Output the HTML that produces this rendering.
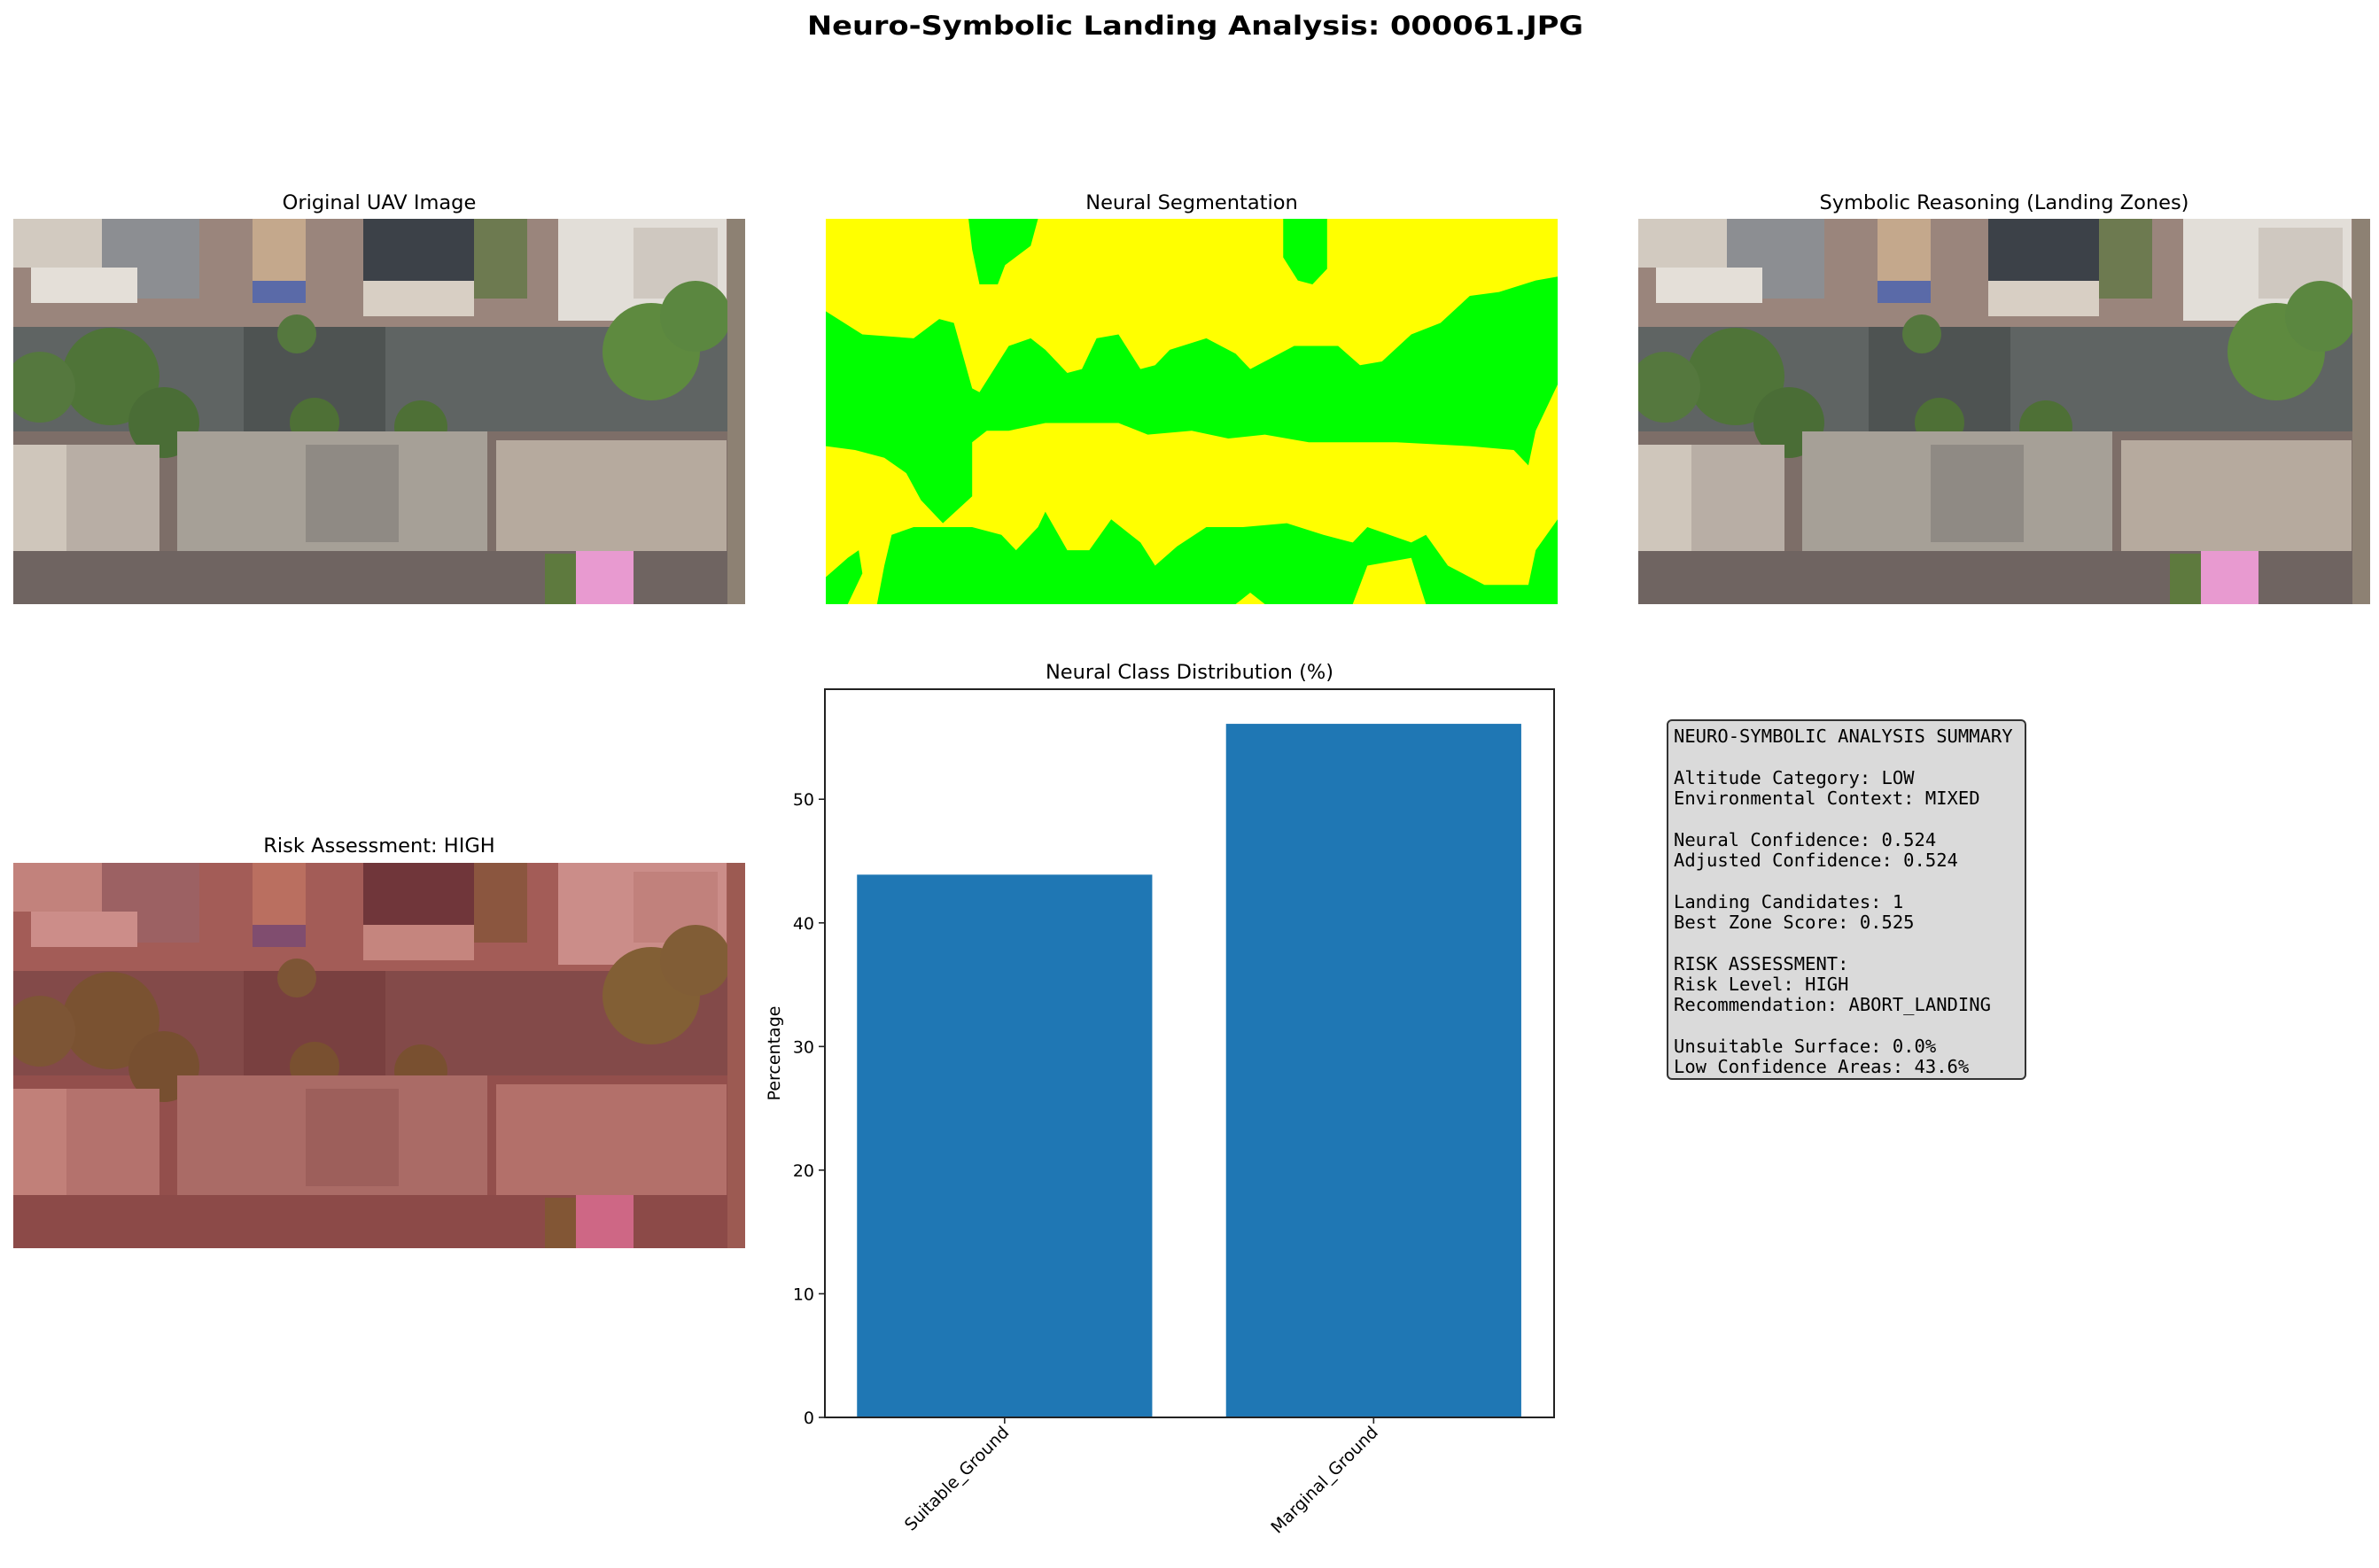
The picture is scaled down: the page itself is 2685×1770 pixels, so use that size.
<!DOCTYPE html>
<html><head><meta charset="utf-8"><style>
html,body{margin:0;padding:0;background:#fff;}
svg{display:block;}
.sans{font-family:"DejaVu Sans","Liberation Sans",sans-serif;}
.mono{font-family:"DejaVu Sans Mono","Liberation Mono",monospace;}
</style></head><body>
<svg id="fig" class="sans" width="2685" height="1770" viewBox="0 0 2685 1770" xmlns="http://www.w3.org/2000/svg">
<defs>
<clipPath id="pclip"><rect x="0" y="0" width="826" height="435"/></clipPath>
<g id="photo" clip-path="url(#pclip)">
  <rect x="0" y="0" width="826" height="435" fill="#7d6e68"/>
  <rect x="0" y="0" width="826" height="125" fill="#9a857c"/>
  <rect x="0" y="0" width="100" height="55" fill="#d2cac0"/>
  <rect x="100" y="0" width="110" height="90" fill="#8c8e92"/>
  <rect x="20" y="55" width="120" height="40" fill="#e4dfd8"/>
  <rect x="270" y="0" width="60" height="70" fill="#c4a88c"/>
  <rect x="270" y="70" width="60" height="25" fill="#5a6aa8"/>
  <rect x="395" y="0" width="125" height="70" fill="#3c4148"/>
  <rect x="395" y="70" width="125" height="40" fill="#d8cfc4"/>
  <rect x="520" y="0" width="60" height="90" fill="#6d7a50"/>
  <rect x="615" y="0" width="190" height="115" fill="#e2ded8"/>
  <rect x="700" y="10" width="95" height="80" fill="#cfc8c0"/>
  <rect x="0" y="122" width="826" height="118" fill="#5f6463"/>
  <rect x="260" y="122" width="160" height="118" fill="#4e5352"/>
  <circle cx="110" cy="178" r="55" fill="#4f7438"/>
  <circle cx="170" cy="230" r="40" fill="#4a6d36"/>
  <circle cx="30" cy="190" r="40" fill="#55783e"/>
  <circle cx="720" cy="150" r="55" fill="#5e8a3f"/>
  <circle cx="770" cy="110" r="40" fill="#5b8740"/>
  <circle cx="460" cy="235" r="30" fill="#4e7036"/>
  <circle cx="340" cy="230" r="28" fill="#4e7036"/>
  <circle cx="320" cy="130" r="22" fill="#55783e"/>
  <rect x="0" y="255" width="165" height="120" fill="#b8aea5"/>
  <rect x="0" y="255" width="60" height="120" fill="#cfc6bb"/>
  <rect x="185" y="240" width="350" height="135" fill="#a6a097"/>
  <rect x="330" y="255" width="105" height="110" fill="#8f8a84"/>
  <rect x="545" y="250" width="260" height="125" fill="#b6aa9e"/>
  <rect x="0" y="375" width="826" height="60" fill="#6f6461"/>
  <rect x="635" y="375" width="65" height="60" fill="#e89ad0"/>
  <rect x="600" y="378" width="35" height="57" fill="#5e7a3e"/>
  <rect x="806" y="0" width="20" height="435" fill="#8d8173"/>
</g>
</defs>

<text x="1349" y="39" text-anchor="middle" font-size="29" font-weight="bold" textLength="876" lengthAdjust="spacingAndGlyphs">Neuro-Symbolic Landing Analysis: 000061.JPG</text>

<text x="428" y="236" text-anchor="middle" font-size="22.5">Original UAV Image</text>
<use href="#photo" x="15" y="247"/>

<text x="1345" y="236" text-anchor="middle" font-size="22.5">Neural Segmentation</text>
<g transform="translate(932,247) scale(826,435)">
  <rect x="0" y="0" width="1" height="1" fill="#ffff00"/>
  <path fill="#00ff00" d="M0.195,0 L0.29,0 L0.28,0.07 L0.245,0.12 L0.235,0.17 L0.21,0.17 L0.2,0.08 Z"/>
  <path fill="#00ff00" d="M0.625,0 L0.685,0 L0.685,0.13 L0.665,0.17 L0.645,0.16 L0.625,0.1 Z"/>
  <path fill="#00ff00" d="M0,0.24 L0.05,0.3 L0.12,0.31 L0.155,0.26 L0.175,0.27 L0.2,0.44 L0.21,0.45 L0.25,0.33 L0.28,0.31 L0.3,0.34 L0.33,0.4 L0.35,0.39 L0.37,0.31 L0.4,0.3 L0.43,0.39 L0.45,0.38 L0.47,0.34 L0.52,0.31 L0.56,0.35 L0.58,0.39 L0.62,0.35 L0.64,0.33 L0.7,0.33 L0.73,0.38 L0.76,0.37 L0.8,0.3 L0.84,0.27 L0.88,0.2 L0.92,0.19 L0.97,0.16 L1,0.15 L1,0.43 L0.97,0.55 L0.96,0.64 L0.94,0.6 L0.88,0.59 L0.78,0.58 L0.66,0.58 L0.6,0.56 L0.55,0.57 L0.5,0.55 L0.44,0.56 L0.4,0.53 L0.3,0.53 L0.25,0.55 L0.22,0.55 L0.2,0.58 L0.2,0.72 L0.16,0.79 L0.13,0.73 L0.11,0.66 L0.08,0.62 L0.04,0.6 L0,0.59 Z"/>
  <path fill="#00ff00" d="M0.07,1 L0.08,0.9 L0.09,0.82 L0.12,0.8 L0.2,0.8 L0.24,0.82 L0.26,0.86 L0.29,0.8 L0.3,0.76 L0.33,0.86 L0.36,0.86 L0.39,0.78 L0.43,0.84 L0.45,0.9 L0.48,0.85 L0.52,0.8 L0.57,0.8 L0.63,0.79 L0.68,0.82 L0.72,0.84 L0.74,0.8 L0.8,0.84 L0.82,0.82 L0.85,0.9 L0.9,0.95 L0.96,0.95 L0.97,0.86 L1,0.78 L1,1 L0.82,1 L0.8,0.88 L0.74,0.9 L0.72,1 L0.6,1 L0.58,0.97 L0.56,1 Z"/>
  <path fill="#00ff00" d="M0,0.93 L0.03,0.88 L0.045,0.86 L0.05,0.92 L0.03,1 L0,1 Z"/>
</g>

<text x="2262" y="236" text-anchor="middle" font-size="22.5">Symbolic Reasoning (Landing Zones)</text>
<use href="#photo" x="1849" y="247"/>

<text x="428" y="962" text-anchor="middle" font-size="22.5">Risk Assessment: HIGH</text>
<use href="#photo" x="15" y="974"/>
<rect x="15" y="974" width="826" height="435" fill="#b02a2a" opacity="0.45"/>

<g id="chart"></g>

<g>
  <rect x="1882" y="813" width="404" height="405" rx="5" ry="5" fill="#dadada" stroke="#333" stroke-width="2"/>
  <text class="mono" font-size="20.5" fill="#000">
    <tspan x="1889" y="838">NEURO-SYMBOLIC ANALYSIS SUMMARY</tspan>
    <tspan x="1889" y="885">Altitude Category: LOW</tspan>
    <tspan x="1889" y="908">Environmental Context: MIXED</tspan>
    <tspan x="1889" y="955">Neural Confidence: 0.524</tspan>
    <tspan x="1889" y="978">Adjusted Confidence: 0.524</tspan>
    <tspan x="1889" y="1025">Landing Candidates: 1</tspan>
    <tspan x="1889" y="1048">Best Zone Score: 0.525</tspan>
    <tspan x="1889" y="1095">RISK ASSESSMENT:</tspan>
    <tspan x="1889" y="1118">Risk Level: HIGH</tspan>
    <tspan x="1889" y="1141">Recommendation: ABORT_LANDING</tspan>
    <tspan x="1889" y="1188">Unsuitable Surface: 0.0%</tspan>
    <tspan x="1889" y="1211">Low Confidence Areas: 43.6%</tspan>
  </text>
</g>
</svg>
<script>
const categories = ["Suitable_Ground", "Marginal_Ground"];
const values = [43.9, 56.1];
const yTicks = [0, 10, 20, 30, 40, 50];

const NS = "http://www.w3.org/2000/svg";
const g = document.getElementById("chart");
const AX = {left: 931, right: 1754, top: 778, bottom: 1600};
const xMin = -0.487, xMax = 1.489, yMin = 0, yMax = 58.9;
function xs(v){ return AX.left + (v - xMin) / (xMax - xMin) * (AX.right - AX.left); }
function ys(v){ return AX.bottom - (v - yMin) / (yMax - yMin) * (AX.bottom - AX.top); }
function mk(tag, attrs){ const e = document.createElementNS(NS, tag); for (const k in attrs) e.setAttribute(k, attrs[k]); g.appendChild(e); return e; }

const title = mk("text", {x: (AX.left + AX.right) / 2, y: AX.top - 12, "text-anchor": "middle", "font-size": 22.5});
title.textContent = "Neural Class Distribution (%)";



values.forEach((v, i) => {
  const x0 = xs(i - 0.4), x1 = xs(i + 0.4);
  const r = mk("rect", {x: x0, y: ys(v), width: x1 - x0, height: ys(0) - ys(v), fill: "#1f77b4"});
  
  
});

const frame = mk("rect", {x: AX.left, y: AX.top, width: AX.right - AX.left, height: AX.bottom - AX.top, fill: "none", stroke: "#222", "stroke-width": 2});



yTicks.forEach(t => {
  const y = ys(t);
  const tk = mk("line", {x1: AX.left - 7, x2: AX.left, y1: y, y2: y, stroke: "#222", "stroke-width": 1.6});
  
  
  const lb = mk("text", {x: AX.left - 12, y: y + 7, "text-anchor": "end", "font-size": 19});
  lb.textContent = String(t);
  
  
});

categories.forEach((c, i) => {
  const x = xs(i);
  const tk = mk("line", {x1: x, x2: x, y1: AX.bottom, y2: AX.bottom + 7, stroke: "#222", "stroke-width": 1.6});
  
  
  const lb = mk("text", {x: x + 6, y: AX.bottom + 18, "text-anchor": "end", "font-size": 19, transform: "rotate(-45 " + (x + 6) + " " + (AX.bottom + 18) + ")"});
  lb.textContent = c;
  
  
});

const yl = mk("text", {x: 0, y: 0, "text-anchor": "middle", "font-size": 19, transform: "translate(880," + ((AX.top + AX.bottom) / 2) + ") rotate(-90)"});
yl.textContent = "Percentage";


</script>
</body></html>
